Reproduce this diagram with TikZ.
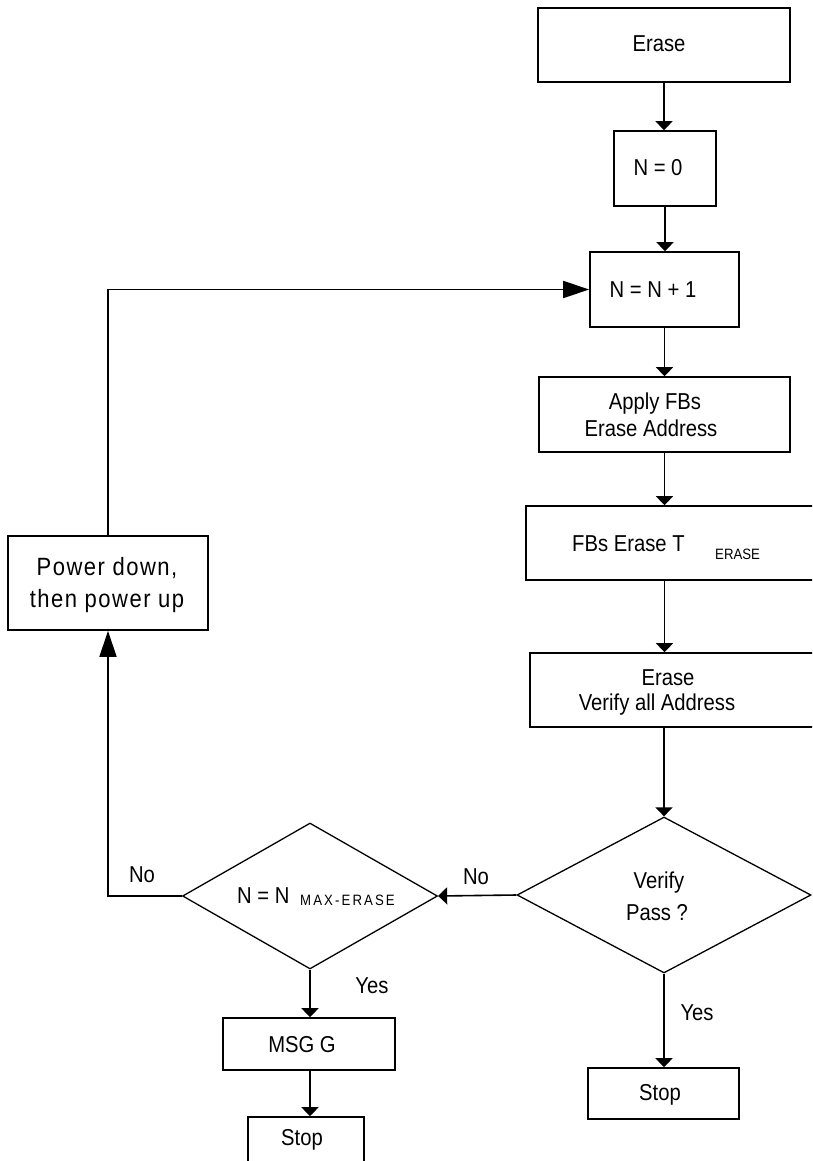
\documentclass[tikz,border=0pt]{standalone}
\usepackage{fontspec}
\setmainfont{Liberation Sans}[FakeStretch=0.88]
\usetikzlibrary{arrows.meta,shapes.geometric}
\begin{document}
\begin{tikzpicture}[x=1pt,y=-1pt,
  box/.style={draw,line width=1.6pt,rectangle,inner sep=0pt},
  dia/.style={draw,line width=1.3pt,diamond,inner sep=0pt},
  txt/.style={inner sep=0pt,anchor=base,font=\fontsize{23}{26}\selectfont},
  sub/.style={inner sep=0pt,anchor=base west,font=\fontsize{15}{17}\selectfont},
  ptxt/.style={inner sep=0pt,anchor=base,font=\fontsize{25}{28}\selectfont\addfontfeature{LetterSpace=6}},
  arr/.style={line width=1.6pt,-{Triangle[width=17pt,length=9pt]}},
  bigarr/.style={line width=1.6pt,-{Triangle[width=17pt,length=26pt]}}]
\useasboundingbox (0,0) rectangle (812,1161);
\clip (0,0) rectangle (812,1161);
% boxes
\node[box,minimum width=252,minimum height=74] (erase) at (664,45) {};
\node[box,minimum width=102,minimum height=75] (nzero) at (665,168.5) {};
\node[box,minimum width=149,minimum height=75] (ninc) at (664.5,289.5) {};
\node[box,minimum width=251,minimum height=75] (apply) at (664.5,414.5) {};
\node[box,minimum width=304,minimum height=74] (fbs) at (678,543) {};
\node[box,minimum width=300,minimum height=74] (verify) at (680,690) {};
\node[box,minimum width=200,minimum height=94] (power) at (108,583) {};
\node[box,minimum width=172,minimum height=52] (msg) at (309,1044) {};
\node[box,minimum width=116,minimum height=58] (stopL) at (306,1146) {};
\node[box,minimum width=151,minimum height=51] (stopR) at (663.5,1093.5) {};
\node[dia,minimum width=294,minimum height=156] (vdiam) at (664,895) {};
\node[dia,minimum width=255,minimum height=146] (ndiam) at (310,896) {};
% texts
\node[txt] (t1) at (659,52) {Erase};
\node[txt] (t2) at (658,176) {N = 0};
\node[txt] (t3) at (653,297) {N = N + 1};
\node[txt] (t4) at (655,409) {Apply FBs};
\node[txt] (t5) at (651,436) {Erase Address};
\node[txt,anchor=base west] (t6) at (572,551) {FBs Erase T};
\node[sub] (t6s) at (715,559) {ERASE};
\node[txt] (t7) at (668,685) {Erase};
\node[txt] (t8) at (657,710) {Verify all Address};
\node[txt] (t9) at (659,888) {Verify};
\node[txt] (t10) at (657,920) {Pass ?};
\node[txt,anchor=base west] (t11) at (237,903) {N = N};
\node[sub,font=\fontsize{15}{17}\selectfont\addfontfeature{LetterSpace=14}] (t11s) at (300,905) {MAX-ERASE};
\node[ptxt] (t12) at (107,575) {Power down,};
\node[ptxt] (t13) at (107,607) {then power up};
\node[txt] (t14) at (302,1052) {MSG G};
\node[txt] (t15) at (302,1145) {Stop};
\node[txt] (t16) at (660,1100) {Stop};
\node[txt] (y1) at (697,1020) {Yes};
\node[txt] (y2) at (372,993) {Yes};
\node[txt] (n1) at (476,884) {No};
\node[txt] (n2) at (142,882) {No};
% connectors
\draw[arr] (erase.south) -- (erase.south |- nzero.north);
\draw[arr] (nzero.south) -- (nzero.south |- ninc.north);
\draw[arr] (ninc.south) -- (ninc.south |- apply.north);
\draw[arr] (apply.south) -- (apply.south |- fbs.north);
\draw[arr] (apply.south |- fbs.south) -- (apply.south |- verify.north);
\draw[arr] (vdiam.north |- verify.south) -- (vdiam.north);
\draw[arr] (vdiam.south) -- (vdiam.south |- stopR.north);
\draw[arr] (vdiam.west) -- (ndiam.east);
\draw[arr] (ndiam.south) -- (ndiam.south |- msg.north);
\draw[arr] (ndiam.south |- msg.south) -- (ndiam.south |- stopL.north);
\draw[bigarr] (ndiam.west) -- (ndiam.west -| power.south) -- (power.south);
\draw[bigarr] (power.north) -- (power.north |- ninc.west) -- (ninc.west);
\end{tikzpicture}
\end{document}
